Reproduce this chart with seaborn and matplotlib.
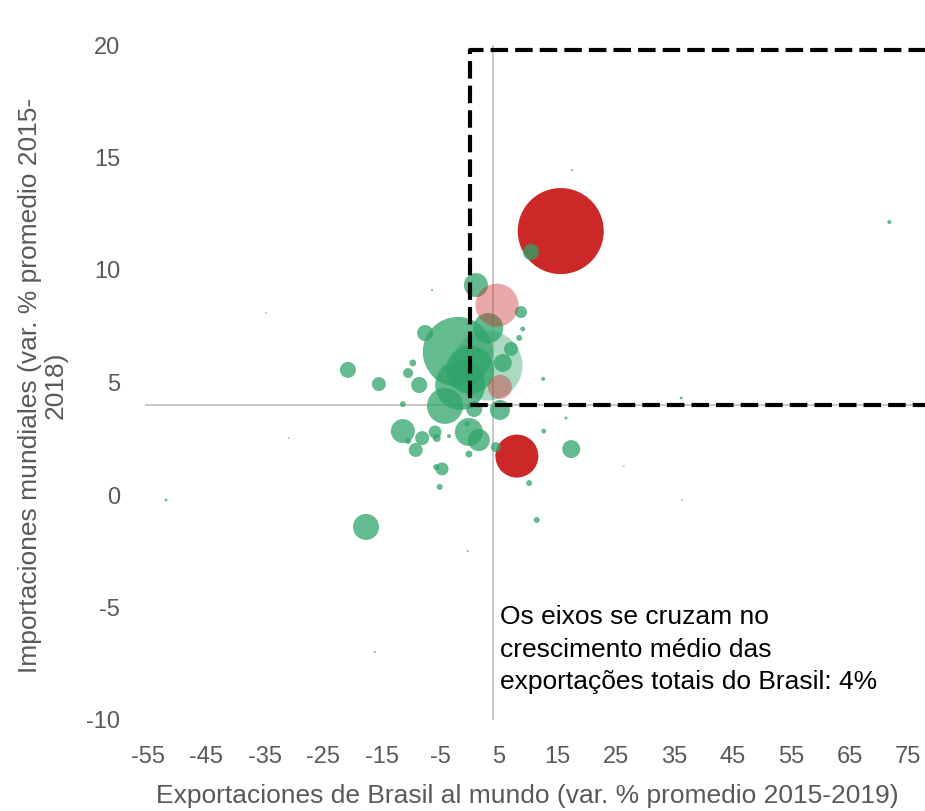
import pandas as pd
import seaborn as sns
import matplotlib.pyplot as plt

# Datos (x: exportaciones, y: importaciones, valor ~ tamaño de burbuja)
exportaciones = [15.6, 8.1,
                 -2.0, -1.6, -4.2, 0.1, 1.1, 3.2, 8.8, 10.5, 9.1, 8.5, 7.1, 5.7,
                 -7.6, -20.8, -15.5, -9.7, -10.5, -8.6, -11.4, 0.8, 5.2, -11.4, -8.1,
                 -10.5, -9.2, -5.9, -5.6, -0.4, -3.5, -0.1, 1.6, 4.5, -0.1, -5.7,
                 -4.7, -5.1, 10.2, 12.6, 16.5, 12.7, 17.4, -6.4, -17.7, 11.5, -51.9,
                 -16.2, -0.3, 17.5, 71.8, 36.2, 36.3, 26.4, -34.8, -30.9,
                 3.0, 4.7, 5.2]
importaciones = [11.73, 1.73,
                 6.36, 4.89, 3.96, 5.56, 9.33, 7.42, 8.13, 10.8, 7.38, 6.98, 6.49, 5.87,
                 7.2, 5.56, 4.93, 5.87, 5.42, 4.89, 4.04, 3.82, 3.78, 2.84, 2.53,
                 2.4, 2.0, 2.8, 2.53, 3.16, 2.62, 2.8, 2.44, 2.13, 1.82, 1.24,
                 1.16, 0.36, 0.53, 5.16, 3.42, 2.84, 2.04, 9.11, -1.42, -1.11, -0.22,
                 -6.98, -2.49, 14.44, 12.13, 4.31, -0.22, 1.29, 8.09, 2.53,
                 5.8, 8.44, 4.8]
valor = [1849, 462,
         1225, 625, 324, 576, 144, 225, 36, 64, 6, 9, 49, 81,
         64, 64, 49, 12, 25, 64, 9, 64, 100, 144, 49,
         9, 49, 42, 16, 6, 4, 196, 121, 25, 12, 9,
         42, 9, 9, 4, 2, 6, 81, 1, 169, 9, 2,
         1, 1, 1, 4, 2, 0.6, 0.6, 0.6, 0.6,
         1225, 462, 144]
grupo = (["rojo"] * 2 + ["verde"] * 54 + ["verde_claro"] + ["rosa"] * 2)

df = pd.DataFrame({"x": exportaciones, "y": importaciones, "valor": valor, "grupo": grupo})

cruce = 4
rect_x0, rect_y0, rect_y1, rect_x1 = 0, 4, 19.8, 90

capas = [("rojo", "#CC2828", 1.0),
         ("verde", "#2FA46A", 0.75),
         ("verde_claro", "#2FA46A", 0.4),
         ("rosa", "#CC2828", 0.4)]

plt.rcParams["font.family"] = ["Liberation Sans", "DejaVu Sans"]
plt.rcParams["axes.unicode_minus"] = False
fig = plt.figure(figsize=(9.25, 8.11), dpi=100)
ax = fig.add_axes([145 / 925, 91 / 811, 780 / 925, 675 / 811])

ax.axvline(cruce, color="#BFBFBF", lw=1.2, zorder=0)
ax.axhline(cruce, color="#BFBFBF", lw=1.2, zorder=0)

vmax = max(valor)
for g, c, a in capas:
    sns.scatterplot(data=df[df.grupo == g], x="x", y="y", size="valor",
                    sizes=(0, 2.0736 * vmax), size_norm=(0, vmax),
                    color=c, alpha=a, linewidth=0, legend=False, ax=ax)

ax.plot([rect_x1, rect_x0, rect_x0, rect_x1], [rect_y1, rect_y1, rect_y0, rect_y0],
        color="black", lw=3, dashes=(4.2, 1.7), zorder=5)

ax.text(5.2, -4.9, "Os eixos se cruzam no\ncrescimento médio das\nexportações totais do Brasil: 4%",
        fontsize=19, color="black", va="top", ha="left", linespacing=1.45)

ax.set_xlim(-55.5, 77.9)
ax.set_ylim(-10, 20)
ax.set_xticks(range(-55, 76, 10))
ax.set_yticks(range(-10, 21, 5))
ax.tick_params(length=0, labelsize=17, labelcolor="#595959")
ax.tick_params(axis="y", pad=18)
ax.tick_params(axis="x", pad=19)
for s in ax.spines.values():
    s.set_visible(False)

ax.set_xlabel("Exportaciones de Brasil al mundo (var. % promedio 2015-2019)",
              fontsize=19, color="#595959")
ax.set_ylabel("Importaciones mundiales (var. % promedio 2015-\n2018)",
              fontsize=19, color="#595959", linespacing=1.1)
ax.xaxis.set_label_coords(0.49, -0.095)
ax.yaxis.set_label_coords(-0.099, 0.496)

fig.savefig("out.png", dpi=100)
